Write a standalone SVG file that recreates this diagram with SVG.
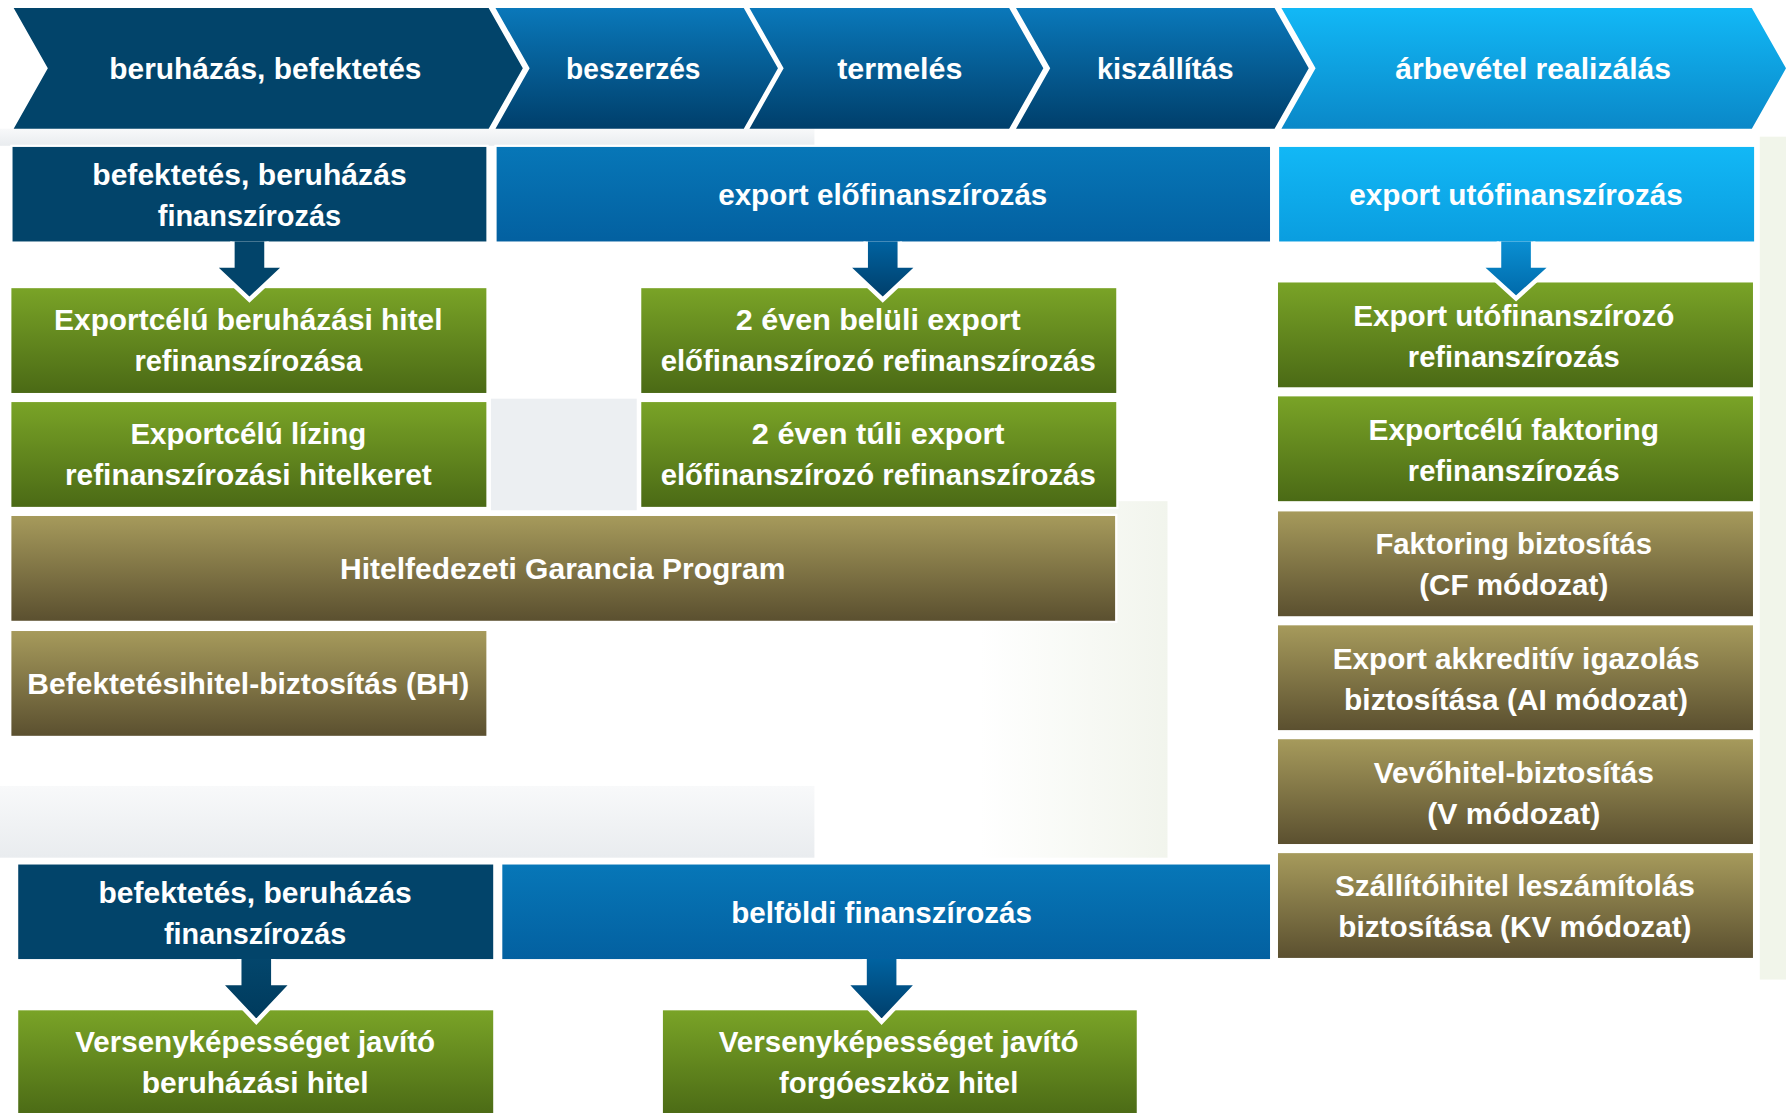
<svg xmlns="http://www.w3.org/2000/svg" width="1786" height="1113" viewBox="0 0 1786 1113">
<defs>
<linearGradient id="gBlue" x1="0" y1="0" x2="0" y2="1"><stop offset="0" stop-color="#0a78ba"/><stop offset="1" stop-color="#003f6b"/></linearGradient>
<linearGradient id="gBlueH" x1="0" y1="0" x2="0" y2="1"><stop offset="0" stop-color="#0777b8"/><stop offset="1" stop-color="#0360a0"/></linearGradient>
<linearGradient id="gCyan" x1="0" y1="0" x2="0" y2="1"><stop offset="0" stop-color="#12b8f6"/><stop offset="1" stop-color="#0a88c8"/></linearGradient>
<linearGradient id="gCyanH" x1="0" y1="0" x2="0" y2="1"><stop offset="0" stop-color="#12b8f6"/><stop offset="1" stop-color="#0a9ddf"/></linearGradient>
<linearGradient id="gGreen" x1="0" y1="0" x2="0" y2="1"><stop offset="0" stop-color="#7aa427"/><stop offset="1" stop-color="#4a6915"/></linearGradient>
<linearGradient id="gOlive" x1="0" y1="0" x2="0" y2="1"><stop offset="0" stop-color="#a79b5c"/><stop offset="1" stop-color="#5a4f2f"/></linearGradient>
<linearGradient id="gArB" x1="0" y1="0" x2="0" y2="1"><stop offset="0" stop-color="#0062a0"/><stop offset="1" stop-color="#003d68"/></linearGradient>
<linearGradient id="gArC" x1="0" y1="0" x2="0" y2="1"><stop offset="0" stop-color="#0a8fd2"/><stop offset="1" stop-color="#0068a8"/></linearGradient>
<linearGradient id="gArN" x1="0" y1="0" x2="0" y2="1"><stop offset="0" stop-color="#03466c"/><stop offset="1" stop-color="#003a5c"/></linearGradient>
<linearGradient id="gBand" x1="0" y1="0" x2="0" y2="1"><stop offset="0" stop-color="#f8f9fa"/><stop offset="1" stop-color="#e9ecef"/></linearGradient>
<linearGradient id="gBand2" x1="0" y1="0" x2="1" y2="0"><stop offset="0" stop-color="#ffffff"/><stop offset="1" stop-color="#eef2e8"/></linearGradient>
</defs>
<style>
.t{font-family:"Liberation Sans",Arial,sans-serif;font-weight:bold;font-size:26px;fill:#ffffff;text-anchor:middle}
.navy{fill:#02446a}
.blueC{fill:url(#gBlue)}
.blueH{fill:url(#gBlueH)}
.cyanC{fill:url(#gCyan)}
.cyanH{fill:url(#gCyanH)}
.green{fill:url(#gGreen)}
.olive{fill:url(#gOlive)}
.bx{stroke:#ffffff;stroke-width:2}
.ar{stroke:#ffffff;stroke-width:4;stroke-linejoin:miter}
</style>
<rect width="1786" height="1113" fill="#ffffff"/>
<g transform="scale(1.13903)">
<g id="background">
<rect x="0" y="113" width="715" height="15" fill="url(#gBand)"/>
<rect x="0" y="690" width="715" height="63" fill="url(#gBand)"/>
<rect x="431" y="350" width="128" height="98" fill="#eceff2"/>
<rect x="860" y="440" width="165" height="313" fill="url(#gBand2)" opacity="0.8"/>
<rect x="1545" y="120" width="23" height="740" fill="#f1f5ea"/>
</g>
<g id="chevrons">
<g id="chev1"><polygon class="navy" points="12,7 429,7 459,60 429,113 12,113 42,60"/><text class="t" x="233" y="69" textLength="274" lengthAdjust="spacingAndGlyphs">beruházás, befektetés</text></g>
<g id="chev2"><polygon class="blueC" points="435,7 653,7 683,60 653,113 435,113 465,60"/><text class="t" x="556" y="69" textLength="118" lengthAdjust="spacingAndGlyphs">beszerzés</text></g>
<g id="chev3"><polygon class="blueC" points="658,7 886,7 916,60 886,113 658,113 688,60"/><text class="t" x="790" y="69" textLength="110" lengthAdjust="spacingAndGlyphs">termelés</text></g>
<g id="chev4"><polygon class="blueC" points="892,7 1119,7 1149,60 1119,113 892,113 922,60"/><text class="t" x="1023" y="69" textLength="120" lengthAdjust="spacingAndGlyphs">kiszállítás</text></g>
<g id="chev5"><polygon class="cyanC" points="1125,7 1538,7 1568,60 1538,113 1125,113 1155,60"/><text class="t" x="1346" y="69" textLength="242" lengthAdjust="spacingAndGlyphs">árbevétel realizálás</text></g>
</g>
<g id="hdr-invest"><rect class="navy bx" x="10" y="128" width="418" height="85"/><text class="t" x="219" y="162" textLength="276" lengthAdjust="spacingAndGlyphs">befektetés, beruházás</text><text class="t" x="219" y="198" textLength="161" lengthAdjust="spacingAndGlyphs">finanszírozás</text></g>
<g id="hdr-pre"><rect class="blueH bx" x="435" y="128" width="681" height="85"/><text class="t" x="775" y="180" textLength="289" lengthAdjust="spacingAndGlyphs">export előfinanszírozás</text></g>
<g id="hdr-post"><rect class="cyanH bx" x="1122" y="128" width="419" height="85"/><text class="t" x="1331" y="180" textLength="293" lengthAdjust="spacingAndGlyphs">export utófinanszírozás</text></g>
<g id="n-exp-beruh"><rect class="green bx" x="9" y="252" width="419" height="94"/><text class="t" x="218" y="290" textLength="341" lengthAdjust="spacingAndGlyphs">Exportcélú beruházási hitel</text><text class="t" x="218" y="326" textLength="200" lengthAdjust="spacingAndGlyphs">refinanszírozása</text></g>
<g id="n-exp-lizing"><rect class="green bx" x="9" y="352" width="419" height="94"/><text class="t" x="218" y="390" textLength="207" lengthAdjust="spacingAndGlyphs">Exportcélú lízing</text><text class="t" x="218" y="426" textLength="322" lengthAdjust="spacingAndGlyphs">refinanszírozási hitelkeret</text></g>
<g id="n-2ev-belul"><rect class="green bx" x="562" y="252" width="419" height="94"/><text class="t" x="771" y="290" textLength="250" lengthAdjust="spacingAndGlyphs">2 éven belüli export</text><text class="t" x="771" y="326" textLength="382" lengthAdjust="spacingAndGlyphs">előfinanszírozó refinanszírozás</text></g>
<g id="n-2ev-tul"><rect class="green bx" x="562" y="352" width="419" height="94"/><text class="t" x="771" y="390" textLength="222" lengthAdjust="spacingAndGlyphs">2 éven túli export</text><text class="t" x="771" y="426" textLength="382" lengthAdjust="spacingAndGlyphs">előfinanszírozó refinanszírozás</text></g>
<g id="n-hgp"><rect class="olive bx" x="9" y="452" width="971" height="94"/><text class="t" x="494" y="508" textLength="391" lengthAdjust="spacingAndGlyphs">Hitelfedezeti Garancia Program</text></g>
<g id="n-bh"><rect class="olive bx" x="9" y="553" width="419" height="94"/><text class="t" x="218" y="609" textLength="388" lengthAdjust="spacingAndGlyphs">Befektetésihitel-biztosítás (BH)</text></g>
<g id="n-uto"><rect class="green bx" x="1121" y="247" width="419" height="94"/><text class="t" x="1329" y="286" textLength="282" lengthAdjust="spacingAndGlyphs">Export utófinanszírozó</text><text class="t" x="1329" y="322" textLength="186" lengthAdjust="spacingAndGlyphs">refinanszírozás</text></g>
<g id="n-faktoring"><rect class="green bx" x="1121" y="347" width="419" height="94"/><text class="t" x="1329" y="386" textLength="255" lengthAdjust="spacingAndGlyphs">Exportcélú faktoring</text><text class="t" x="1329" y="422" textLength="186" lengthAdjust="spacingAndGlyphs">refinanszírozás</text></g>
<g id="n-cf"><rect class="olive bx" x="1121" y="448" width="419" height="94"/><text class="t" x="1329" y="486" textLength="243" lengthAdjust="spacingAndGlyphs">Faktoring biztosítás</text><text class="t" x="1329" y="522" textLength="166" lengthAdjust="spacingAndGlyphs">(CF módozat)</text></g>
<g id="n-ai"><rect class="olive bx" x="1121" y="548" width="419" height="94"/><text class="t" x="1331" y="587" textLength="322" lengthAdjust="spacingAndGlyphs">Export akkreditív igazolás</text><text class="t" x="1331" y="623" textLength="302" lengthAdjust="spacingAndGlyphs">biztosítása (AI módozat)</text></g>
<g id="n-v"><rect class="olive bx" x="1121" y="648" width="419" height="94"/><text class="t" x="1329" y="687" textLength="246" lengthAdjust="spacingAndGlyphs">Vevőhitel-biztosítás</text><text class="t" x="1329" y="723" textLength="152" lengthAdjust="spacingAndGlyphs">(V módozat)</text></g>
<g id="n-kv"><rect class="olive bx" x="1121" y="748" width="419" height="94"/><text class="t" x="1330" y="787" textLength="316" lengthAdjust="spacingAndGlyphs">Szállítóihitel leszámítolás</text><text class="t" x="1330" y="823" textLength="310" lengthAdjust="spacingAndGlyphs">biztosítása (KV módozat)</text></g>
<g id="hdr-invest2"><rect class="navy bx" x="15" y="758" width="419" height="85"/><text class="t" x="224" y="793" textLength="275" lengthAdjust="spacingAndGlyphs">befektetés, beruházás</text><text class="t" x="224" y="829" textLength="160" lengthAdjust="spacingAndGlyphs">finanszírozás</text></g>
<g id="hdr-belfoldi"><rect class="blueH bx" x="440" y="758" width="676" height="85"/><text class="t" x="774" y="810" textLength="264" lengthAdjust="spacingAndGlyphs">belföldi finanszírozás</text></g>
<g id="n-vers-beruh"><rect class="green bx" x="15" y="886" width="419" height="95"/><text class="t" x="224" y="924" textLength="316" lengthAdjust="spacingAndGlyphs">Versenyképességet javító</text><text class="t" x="224" y="960" textLength="199" lengthAdjust="spacingAndGlyphs">beruházási hitel</text></g>
<g id="n-vers-forgo"><rect class="green bx" x="581" y="886" width="418" height="95"/><text class="t" x="789" y="924" textLength="316" lengthAdjust="spacingAndGlyphs">Versenyképességet javító</text><text class="t" x="789" y="960" textLength="210" lengthAdjust="spacingAndGlyphs">forgóeszköz hitel</text></g>
<g id="connectors">
<path class="ar" fill="#02446a" d="M204,212 L204,233 L187,233 L219,263 L251,233 L234,233 L234,212"/>
<path class="ar" fill="url(#gArB)" d="M760,212 L760,233 L743,233 L775,263 L807,233 L790,233 L790,212"/>
<path class="ar" fill="url(#gArC)" d="M1316,212 L1316,233 L1299,233 L1331,262 L1363,233 L1346,233 L1346,212"/>
<path class="ar" fill="url(#gArN)" d="M210,842 L210,863 L193,863 L225,897 L257,863 L240,863 L240,842"/>
<path class="ar" fill="url(#gArB)" d="M759,842 L759,863 L742,863 L774,897 L806,863 L789,863 L789,842"/>
</g>
</g>
</svg>
